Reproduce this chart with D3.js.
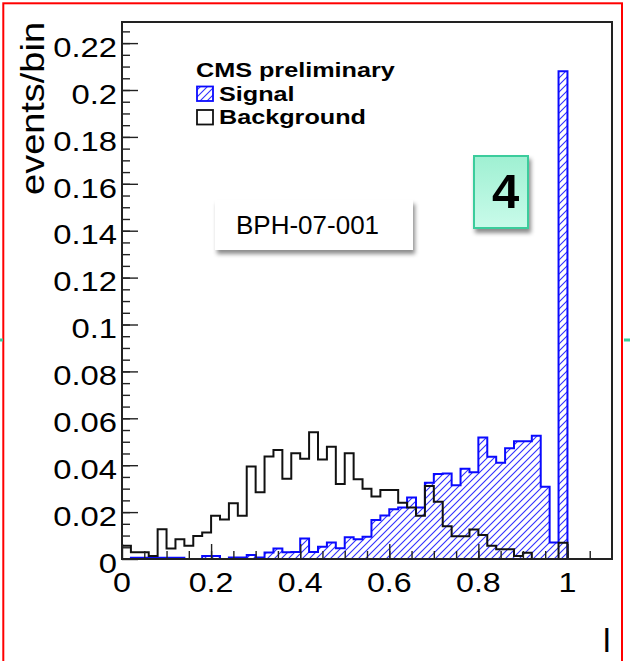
<!DOCTYPE html>
<html>
<head>
<meta charset="utf-8">
<script src="https://cdn.jsdelivr.net/npm/d3@7"></script>
<style>
  html, body { margin: 0; padding: 0; background: #fff; }
  svg { display: block; }
</style>
</head>
<body>
<svg id="chart" width="630" height="661"></svg>
<script>
// Histogram binning: 50 bins of width 0.02 on [0, 1]
const binWidth = 0.02;

// events/bin for the signal sample (hatched blue)
const signal = [
  0.0000, 0.0005, 0.0005, 0.0005, 0.0005, 0.0005, 0.0005, 0.0000, 0.0000, 0.0013,
  0.0013, 0.0000, 0.0006, 0.0006, 0.0017, 0.0006, 0.0028, 0.0045, 0.0029, 0.0030,
  0.0087, 0.0030, 0.0052, 0.0070, 0.0046, 0.0093, 0.0084, 0.0095, 0.0166, 0.0185,
  0.0212, 0.0220, 0.0262, 0.0220, 0.0325, 0.0363, 0.0365, 0.0315, 0.0385, 0.0370,
  0.0518, 0.0436, 0.0410, 0.0472, 0.0502, 0.0502, 0.0526, 0.0308, 0.0070, 0.2080
];

// events/bin for the background sample (black outline)
const background = [
  0.0056, 0.0029, 0.0029, 0.0013, 0.0127, 0.0045, 0.0084, 0.0056, 0.0098, 0.0113,
  0.0184, 0.0168, 0.0238, 0.0184, 0.0394, 0.0285, 0.0437, 0.0465, 0.0342, 0.0451,
  0.0427, 0.0540, 0.0424, 0.0479, 0.0320, 0.0451, 0.0340, 0.0300, 0.0266, 0.0294,
  0.0294, 0.0240, 0.0220, 0.0184, 0.0311, 0.0244, 0.0140, 0.0097, 0.0097, 0.0126,
  0.0102, 0.0056, 0.0042, 0.0042, 0.0013, 0.0027, 0.0000, 0.0000, 0.0000, 0.0069
];

const xTickValues = [0, 0.2, 0.4, 0.6, 0.8, 1];
const xTickLabels = ["0", "0.2", "0.4", "0.6", "0.8", "1"];
const yTickValues = [0, 0.02, 0.04, 0.06, 0.08, 0.1, 0.12, 0.14, 0.16, 0.18, 0.2, 0.22];
const yTickLabels = ["0", "0.02", "0.04", "0.06", "0.08", "0.1", "0.12", "0.14", "0.16", "0.18", "0.2", "0.22"];
const xMinorValues = d3.range(0.05, 1.1, 0.05);
const yMinorValues = d3.range(0.005, 0.2251, 0.005);

const legendTitle = "CMS preliminary";
const legendItems = ["Signal", "Background"];
const xTitle = "l";
const yTitle = "events/bin";
const noteLabel = "BPH-07-001";
const figureNumber = "4";

const FONT = "'Liberation Sans', Arial, Helvetica, sans-serif";

const svg = d3.select("#chart");
const frame = { left: 122, right: 612, top: 22, bottom: 559 };

const x = d3.scaleLinear().domain([0, 1.1]).range([frame.left, frame.right]);
const y = d3.scaleLinear().domain([0, 0.229]).range([frame.bottom, frame.top]);

const defs = svg.append("defs");

// diagonal hatch used for the signal histogram
const hatch = defs.append("pattern")
  .attr("id", "hatch")
  .attr("patternUnits", "userSpaceOnUse")
  .attr("width", 7).attr("height", 7);
hatch.append("rect").attr("width", 7).attr("height", 7).attr("fill", "#fff");
hatch.append("path")
  .attr("d", "M0,7 L7,0 M-1,1 L1,-1 M6,8 L8,6")
  .attr("stroke", "#3030ff").attr("stroke-width", 1.1);

const shadow = defs.append("filter").attr("id", "shadow")
  .attr("x", "-10%").attr("y", "-10%").attr("width", "130%").attr("height", "140%");
shadow.append("feDropShadow")
  .attr("dx", 2).attr("dy", 4).attr("stdDeviation", 2.2)
  .attr("flood-color", "#000").attr("flood-opacity", 0.45);

const mint = defs.append("linearGradient").attr("id", "mint")
  .attr("x1", 0).attr("y1", 0).attr("x2", 0).attr("y2", 1);
mint.append("stop").attr("offset", "0%").attr("stop-color", "#9ff0d2");
mint.append("stop").attr("offset", "100%").attr("stop-color", "#c9fbea");

// text drawn with a stretch along its reading direction
function label(g, px, py, str, opt) {
  const o = Object.assign({ size: 28, weight: "normal", anchor: "start", stretch: 1, rotate: 0, fill: "#000" }, opt);
  return g.append("text")
    .attr("transform", `translate(${px},${py}) rotate(${o.rotate}) scale(${o.stretch},1)`)
    .attr("text-anchor", o.anchor)
    .attr("font-family", FONT)
    .attr("font-size", o.size)
    .attr("font-weight", o.weight)
    .attr("fill", o.fill)
    .text(str);
}

// step outline of a histogram through the scales
function histPoints(values) {
  const pts = [[0, 0]];
  values.forEach((v, i) => pts.push([i * binWidth, v]));
  pts.push([values.length * binWidth, values[values.length - 1]]);
  pts.push([values.length * binWidth, 0]);
  return pts;
}
const stepLine = d3.line()
  .x(d => x(d[0]))
  .y(d => y(d[1]))
  .curve(d3.curveStepAfter);

// signal: hatched fill with blue outline
svg.append("path")
  .attr("d", stepLine(histPoints(signal)) + "Z")
  .attr("fill", "url(#hatch)")
  .attr("stroke", "none");
svg.append("path")
  .attr("d", stepLine(histPoints(signal)))
  .attr("fill", "none")
  .attr("stroke", "#0a0aff")
  .attr("stroke-width", 2);

// background: black outline on top
svg.append("path")
  .attr("d", stepLine(histPoints(background)))
  .attr("fill", "none")
  .attr("stroke", "#111")
  .attr("stroke-width", 2);

// axes with inward ticks
const axisColor = "#222";
function styleAxis(g) {
  g.select(".domain").remove();
  g.selectAll(".tick line").attr("stroke", axisColor).attr("stroke-width", 1.4);
  g.selectAll(".tick text").remove();
}
svg.append("g").attr("transform", `translate(${frame.left},0)`)
  .call(d3.axisLeft(y).tickValues(yTickValues).tickSizeInner(-16).tickSizeOuter(0).tickFormat(""))
  .call(styleAxis);
svg.append("g").attr("transform", `translate(${frame.left},0)`)
  .call(d3.axisLeft(y).tickValues(yMinorValues).tickSizeInner(-8).tickSizeOuter(0).tickFormat(""))
  .call(styleAxis);
svg.append("g").attr("transform", `translate(0,${frame.bottom})`)
  .call(d3.axisBottom(x).tickValues(xTickValues).tickSizeInner(-15).tickSizeOuter(0).tickFormat(""))
  .call(styleAxis);
svg.append("g").attr("transform", `translate(0,${frame.bottom})`)
  .call(d3.axisBottom(x).tickValues(xMinorValues).tickSizeInner(-8).tickSizeOuter(0).tickFormat(""))
  .call(styleAxis);

// plot frame
svg.append("rect")
  .attr("x", frame.left).attr("y", frame.top)
  .attr("width", frame.right - frame.left).attr("height", frame.bottom - frame.top)
  .attr("fill", "none").attr("stroke", axisColor).attr("stroke-width", 2);

// tick labels
const labels = svg.append("g");
yTickValues.forEach((v, i) => {
  label(labels, 117, y(v) + 13.7, yTickLabels[i], { size: 28.5, anchor: "end", stretch: 1.15 });
});
xTickValues.forEach((v, i) => {
  label(labels, x(v), 592, xTickLabels[i], { size: 28.5, anchor: "middle", stretch: 1.13 });
});

// axis titles
label(labels, 44, 22, yTitle, { size: 33, anchor: "end", rotate: -90, stretch: 1.15 });
label(labels, 603, 652, xTitle, { size: 34, anchor: "start" });

// legend
const leg = svg.append("g");
label(leg, 196, 77, legendTitle, { size: 21, weight: "bold", stretch: 1.2 });
leg.append("rect").attr("x", 197).attr("y", 86.5).attr("width", 16).attr("height", 14.5)
  .attr("fill", "url(#hatch)").attr("stroke", "#0a0aff").attr("stroke-width", 1.8);
label(leg, 219, 101, legendItems[0], { size: 21, weight: "bold", stretch: 1.2 });
leg.append("rect").attr("x", 197).attr("y", 110).attr("width", 16).attr("height", 14.5)
  .attr("fill", "#fff").attr("stroke", "#111").attr("stroke-width", 1.8);
label(leg, 219, 124, legendItems[1], { size: 21, weight: "bold", stretch: 1.2 });

// note box
svg.append("rect").attr("x", 215).attr("y", 200).attr("width", 198).attr("height", 50)
  .attr("fill", "#fff").attr("filter", "url(#shadow)");
label(svg, 236, 234, noteLabel, { size: 26 });

// figure number box
svg.append("rect").attr("x", 474).attr("y", 156).attr("width", 54).attr("height", 72)
  .attr("fill", "url(#mint)").attr("stroke", "#3acc9c").attr("stroke-width", 2)
  .attr("filter", "url(#shadow)");
label(svg, 505.5, 208, figureNumber, { size: 49, weight: "bold", anchor: "middle" });

// outer border and side markers
svg.append("rect").attr("x", 3.3).attr("y", 3.3).attr("width", 618.7).attr("height", 700)
  .attr("fill", "none").attr("stroke", "#ff0000").attr("stroke-width", 2);
svg.append("line").attr("x1", 0).attr("x2", 3).attr("y1", 340).attr("y2", 340)
  .attr("stroke", "#3acc9c").attr("stroke-width", 3);
svg.append("line").attr("x1", 624).attr("x2", 630).attr("y1", 340).attr("y2", 340)
  .attr("stroke", "#3acc9c").attr("stroke-width", 3);
</script>
</body>
</html>
